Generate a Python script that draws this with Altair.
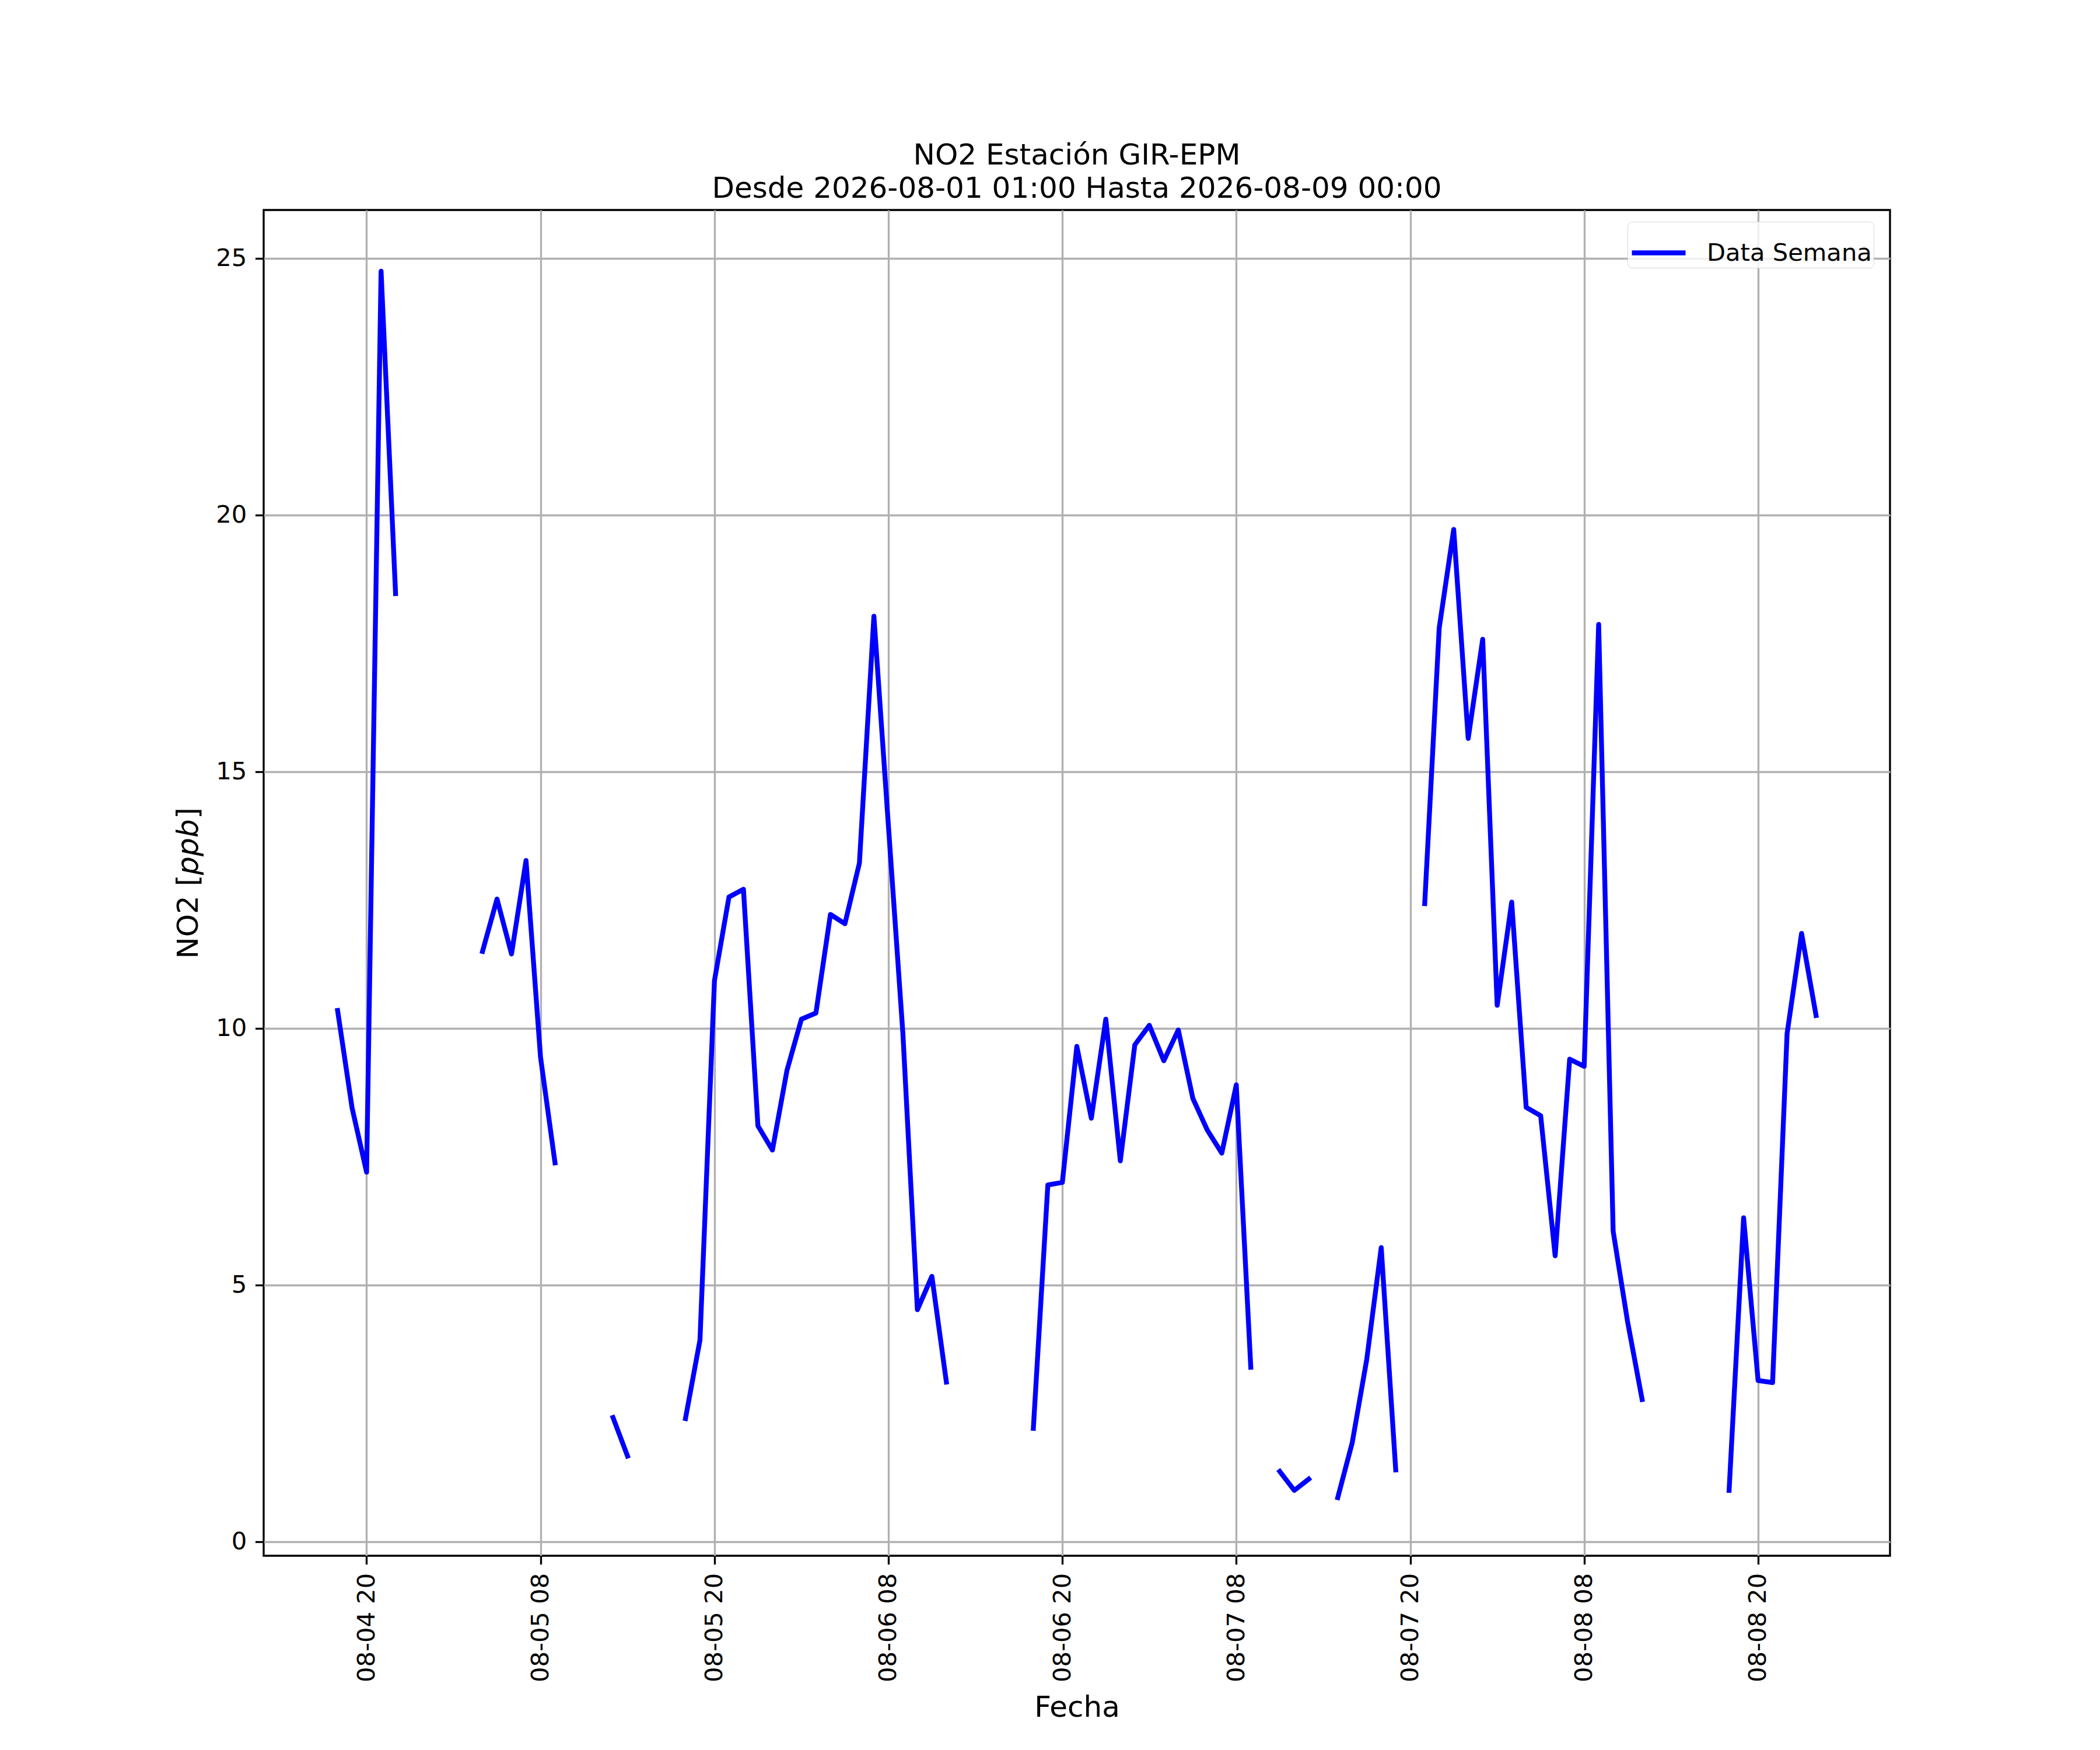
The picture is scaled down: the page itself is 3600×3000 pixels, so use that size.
import altair as alt
import pandas as pd

# Hourly NO2 readings (ppb) from 2026-08-04 18:00 to 2026-08-09 00:00 (UTC); None = missing
start = "2026-08-04 18:00"
no2_0804 = [10.35, 8.45, 7.2, 24.75, 18.47, None]                      # 18..23
no2_0805 = [None, None, None, None, 11.5, 12.52, 11.45, 13.27, 9.44, 7.38,
            None, None, None, 2.42, 1.67, None, None, None, 2.40, 3.93,
            10.93, 12.56, 12.71, 8.1]                                    # 00..23
no2_0806 = [7.63, 9.18, 10.18, 10.30, 12.22, 12.04, 13.22, 18.03, 13.95, 9.9,
            4.52, 5.17, 3.11, None, None, None, None, None, 2.21, 6.95,
            7.0, 9.65, 8.25, 10.18]
no2_0807 = [7.42, 9.68, 10.06, 9.37, 9.97, 8.64, 8.02, 7.57, 8.90, 3.40,
            None, 1.37, 1.0, 1.22, None, 0.86, 1.93, 3.55, 5.73, 1.40,
            None, 12.43, 17.8, 19.72]
no2_0808 = [15.65, 17.58, 10.45, 12.46, 8.46, 8.30, 5.57, 9.40, 9.26, 17.87,
            6.05, 4.28, 2.77, None, None, None, None, None, 1.0, 6.31,
            3.14, 3.10, 9.9, 11.85]
no2_0809 = [10.25]

values = no2_0804 + no2_0805 + no2_0806 + no2_0807 + no2_0808 + no2_0809
times = pd.date_range(start, periods=len(values), freq="h")

y_ticks = [0, 5, 10, 15, 20, 25]
x_tick_days_hours = [(4, 20), (5, 8), (5, 20), (6, 8), (6, 20), (7, 8), (7, 20), (8, 8), (8, 20)]

df = pd.DataFrame({
    "Fecha": [t.strftime("%Y-%m-%dT%H:%M:%SZ") for t in times],
    "NO2": values,
    "serie": ["Data Semana"] * len(values),
})

FONT = "DejaVu Sans"
PT = 300 / 72.0

x_ticks = [alt.DateTime(year=2026, month=8, date=d, hours=h, utc=True) for d, h in x_tick_days_hours]

W, H = 2788, 2307

line = alt.Chart(df).mark_line(
    strokeWidth=2 * PT,
    strokeCap="square",
    strokeJoin="round",
    invalid="break-paths-filter-domains",
).encode(
    x=alt.X(
        "Fecha:T",
        scale=alt.Scale(
            type="utc",
            domain=[
                alt.DateTime(year=2026, month=8, date=4, hours=12, minutes=54, utc=True),
                alt.DateTime(year=2026, month=8, date=9, hours=5, minutes=6, utc=True),
            ],
            nice=False,
        ),
        axis=alt.Axis(
            values=x_ticks,
            format="%m-%d %H",
            labelAngle=270,
            labelAlign="right",
            labelBaseline="middle",
            labelOverlap=False,
            labelFlush=False,
            labelLimit=1000,
            title="Fecha",
            titleX=W / 2,
            titleY=275,
            titleAlign="center",
            titleBaseline="alphabetic",
        ),
    ),
    y=alt.Y(
        "NO2:Q",
        scale=alt.Scale(domain=[-0.273, 25.943], nice=False, zero=False),
        axis=alt.Axis(
            values=y_ticks,
            title="NO2 [𝘱𝘱𝘣]",
            titleAngle=270,
            titleX=-114,
            titleY=H / 2,
            titleAlign="center",
            titleBaseline="alphabetic",
        ),
    ),
    color=alt.Color(
        "serie:N",
        scale=alt.Scale(range=["#0000ff"]),
        legend=alt.Legend(
            title=None,
            orient="none",
            legendX=2338,
            legendY=20,
            symbolType="stroke",
            symbolSize=8464,
            symbolStrokeWidth=2 * PT,
            labelFont=FONT,
            labelFontSize=10 * PT,
            labelColor="black",
            labelOffset=32,
            labelLimit=1000,
            padding=3,
            strokeColor="#d5d5d5",
            fillColor="rgba(255,255,255,0.8)",
            cornerRadius=8,
        ),
    ),
)

chart = line.properties(
    width=W,
    height=H,
    background="white",
    title=alt.TitleParams(
        text=["NO2 Estación GIR-EPM", "Desde 2026-08-01 01:00 Hasta 2026-08-09 00:00"],
        font=FONT,
        fontSize=12 * PT,
        fontWeight="normal",
        color="black",
        anchor="middle",
        lineHeight=57,
        offset=11,
    ),
    autosize=alt.AutoSizeParams(type="none"),
    padding={"left": 444, "top": 352, "right": 352, "bottom": 325},
).configure_view(
    stroke="black",
    strokeWidth=0.8 * PT,
).configure_axis(
    labelFont=FONT,
    labelFontSize=10 * PT,
    labelColor="black",
    labelPadding=3.5 * PT,
    tickColor="black",
    tickWidth=0.8 * PT,
    tickSize=3.5 * PT,
    domain=False,
    grid=True,
    gridColor="#b0b0b0",
    gridWidth=0.8 * PT,
    titleFont=FONT,
    titleFontSize=12 * PT,
    titleFontWeight="normal",
    titleColor="black",
)

chart.save("out.html", embed_options={"renderer": "svg", "actions": False})
